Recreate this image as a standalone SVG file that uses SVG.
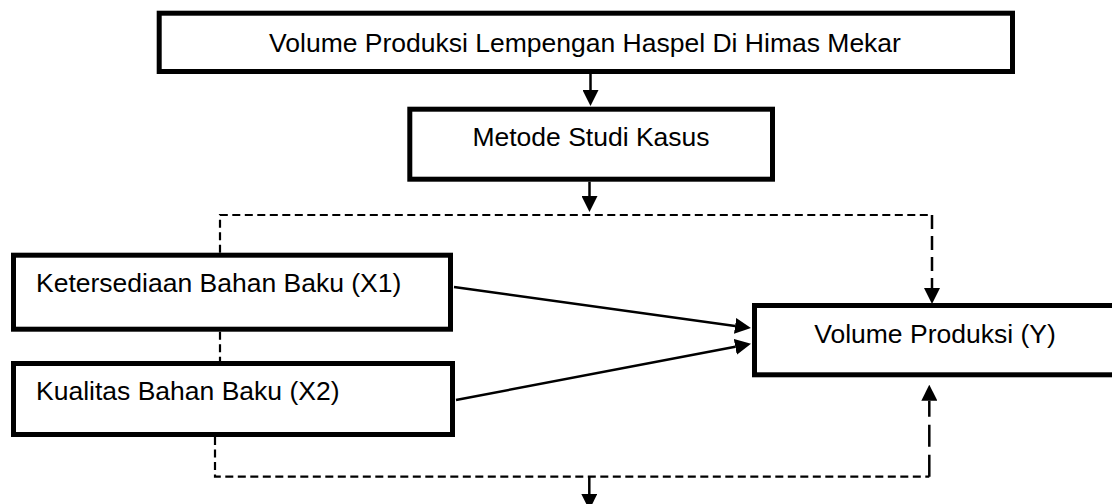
<svg xmlns="http://www.w3.org/2000/svg" width="1112" height="504" viewBox="0 0 1112 504">
  <style>
    .box { fill: #fff; stroke: #000; stroke-width: 5; }
    .lbl { font-family: "Liberation Sans", Arial, sans-serif; font-size: 26.5px; fill: #000; }
    .mid { text-anchor: middle; }
    .solid { fill: none; stroke: #000; stroke-width: 2.5; }
    .dash { fill: none; stroke: #000; stroke-width: 2.2; stroke-dasharray: 8 4.5; }
    .dashv { fill: none; stroke: #000; stroke-width: 2.5; stroke-dasharray: 14 7; }
    .dashl { fill: none; stroke: #000; stroke-width: 2.5; stroke-dasharray: 22 8; }
  </style>
  <defs>
    <marker id="ah" markerUnits="userSpaceOnUse" markerWidth="16" markerHeight="16" viewBox="0 0 15 15" refX="0" refY="7.5" orient="auto">
      <path d="M0,0 L15,7.5 L0,15 z" fill="#000"/>
    </marker>
  </defs>

  <rect width="1112" height="504" fill="#fff"/>

  <g id="connectors">
    <path class="solid" d="M590.5,74 L590.5,90" marker-end="url(#ah)"/>
    <path class="solid" d="M589.5,181.7 L589.5,196" marker-end="url(#ah)"/>
    <path class="dash" d="M220,252.7 L220,215 L932,215"/>
    <path class="dashv" d="M932,215 L932,288" marker-end="url(#ah)"/>
    <path class="dash" d="M220,331.7 L220,361"/>
    <path class="solid" d="M454,287 L735.1,325.9" marker-end="url(#ah)"/>
    <path class="solid" d="M456,400 L735.3,346.8" marker-end="url(#ah)"/>
    <path class="dash" d="M215,437 L215,476.7 L929.3,476.7"/>
    <path class="dashl" d="M929.3,476.7 L929.3,400.7" marker-end="url(#ah)"/>
    <path class="solid" d="M589.3,476.7 L589.3,494" marker-end="url(#ah)"/>
  </g>

  <g id="node-top">
    <rect class="box" x="159.2" y="13.2" width="853.3" height="58.3"/>
    <text class="lbl mid" x="585" y="52">Volume Produksi Lempengan Haspel Di Himas Mekar</text>
  </g>

  <g id="node-metode">
    <rect class="box" x="409.8" y="109.2" width="362.7" height="70"/>
    <text class="lbl mid" x="591" y="146">Metode Studi Kasus</text>
  </g>

  <g id="node-x1">
    <rect class="box" x="13.5" y="255.2" width="437" height="74"/>
    <text class="lbl" x="36" y="292">Ketersediaan Bahan Baku (X1)</text>
  </g>

  <g id="node-x2">
    <rect class="box" x="13.5" y="363.5" width="439" height="71"/>
    <text class="lbl" x="36" y="400">Kualitas Bahan Baku (X2)</text>
  </g>

  <g id="node-y">
    <rect class="box" x="754.5" y="305.5" width="400" height="69.3"/>
    <text class="lbl mid" x="935" y="343">Volume Produksi (Y)</text>
  </g>
</svg>
